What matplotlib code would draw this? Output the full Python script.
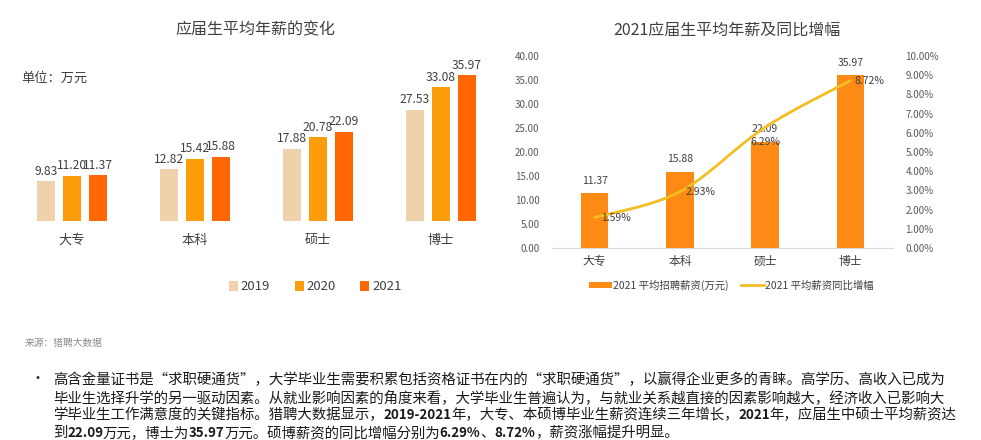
import matplotlib
matplotlib.use("Agg")
import matplotlib.pyplot as plt
from matplotlib.path import Path
from matplotlib.patches import PathPatch
import numpy as np

plt.rcParams['font.family'] = ['Noto Sans CJK SC', 'DejaVu Sans']

# ---------------- data ----------------
categories = ['大专', '本科', '硕士', '博士']
years = ['2019', '2020', '2021']
salary_2019 = [9.83, 12.82, 17.88, 27.53]
salary_2020 = [11.20, 15.42, 20.78, 33.08]
salary_2021 = [11.37, 15.88, 22.09, 35.97]
growth_2021 = [1.59, 2.93, 6.29, 8.72]  # percent

left_title = '应届生平均年薪的变化'
right_title = '2021应届生平均年薪及同比增幅'
bar_legend = '2021 平均招聘薪资(万元)'
line_legend = '2021 平均薪资同比增幅'
unit_text = '单位：万元'
source_text = '来源：猎聘大数据'
# (text, bold) segments per line
body_lines = [
    [('高含金量证书是“求职硬通货”，大学毕业生需要积累包括资格证书在内的“求职硬通货”，以赢得企业更多的青睐。高学历、高收入已成为', False)],
    [('毕业生选择升学的另一驱动因素。从就业影响因素的角度来看，大学毕业生普遍认为，与就业关系越直接的因素影响越大，经济收入已影响大', False)],
    [('学毕业生工作满意度的关键指标。猎聘大数据显示，', False), ('2019-2021', True),
     ('年，大专、本硕博毕业生薪资连续三年增长，', False), ('2021', True),
     ('年，应届生中硕士平均薪资达', False)],
    [('到', False), ('22.09', True), ('万元，博士为', False), ('35.97', True),
     ('万元。硕博薪资的同比增幅分别为', False), ('6.29%', True), ('、', False),
     ('8.72%', True), ('，薪资涨幅提升明显。', False)],
]

c2019 = '#EFD2AB'
c2020 = '#FD9C0B'
c2021 = '#FE6703'
c_bar = '#FD8A14'
c_line = '#F3BE22'
txt = '#404040'

W, H = 981, 440
fig = plt.figure(figsize=(W / 100, H / 100), dpi=100)

def fx(px):
    return px / W

def fy(py):
    return 1 - py / H

# ---------------- left chart ----------------
axL = fig.add_axes([fx(10.5), fy(221), fx(492), (221 - 59) / H])
x = np.arange(len(categories))
bw = 0.142
off = 0.212
series = [salary_2019, salary_2020, salary_2021]
cols = [c2019, c2020, c2021]
for i, (vals, col, yr) in enumerate(zip(series, cols, years)):
    xs = x + (i - 1) * off
    axL.bar(xs, vals, width=bw, color=col, label=yr)
    for xi, v in zip(xs, vals):
        axL.text(xi, v + 0.8, f'{v:.2f}', ha='center', va='bottom',
                 fontsize=8.7, color=txt)
axL.set_xlim(-0.5, 3.5)
axL.set_ylim(0, 40)
axL.set_yticks([])
axL.set_xticks(x)
axL.set_xticklabels(categories, fontsize=9.5, color=txt)
axL.tick_params(axis='x', length=0, pad=9)
for s in axL.spines.values():
    s.set_visible(False)
axL.patch.set_alpha(0)
fig.legend(*axL.get_legend_handles_labels(), loc='center left',
           bbox_to_anchor=(fx(229), fy(287)),
           ncol=3, frameon=False, fontsize=9.5, handlelength=0.7,
           handleheight=0.7, handletextpad=0.2, columnspacing=1.85,
           labelcolor=txt, borderaxespad=0, borderpad=0)

fig.text(fx(255), fy(30), left_title, ha='center', va='center', fontsize=11.5, color=txt)
fig.text(fx(21), fy(78), unit_text, ha='left', va='center', fontsize=9.5, color=txt)

# ---------------- right chart ----------------
axR = fig.add_axes([fx(552), fy(248), fx(341), (248 - 56) / H])
axR.bar(x, salary_2021, width=0.32, color=c_bar, label=bar_legend, zorder=2)
for xi, v in zip(x, salary_2021):
    axR.text(xi, v + 1.6, f'{v:.2f}', ha='center', va='bottom', fontsize=7.5, color=txt)
axR.set_xlim(-0.5, 3.5)
axR.set_ylim(0, 40)
axR.set_yticks(np.arange(0, 41, 5))
axR.set_yticklabels([f'{v:.2f}' for v in np.arange(0, 41, 5)], fontsize=7, color='#595959')
axR.set_xticks(x)
axR.set_xticklabels(categories, fontsize=8.5, color=txt)
axR.tick_params(axis='x', length=0, pad=5)
axR.tick_params(axis='y', length=0, pad=9)
for k in ['top', 'right', 'left']:
    axR.spines[k].set_visible(False)
axR.spines['bottom'].set_color('#D9D9D9')
axR.patch.set_alpha(0)

ax2 = axR.twinx()
ax2.set_ylim(0, 10)
ax2.set_yticks(np.arange(0, 11, 1))
ax2.set_yticklabels([f'{v:.2f}%' for v in np.arange(0, 11, 1)], fontsize=7, color='#595959')
ax2.tick_params(axis='y', length=0, pad=9)
for s in ax2.spines.values():
    s.set_visible(False)

# smooth line (Catmull-Rom -> cubic Bezier) through the data points
gx = np.array(x, dtype=float)
gy = np.array(growth_2021, dtype=float)
verts = [(gx[0], gy[0])]
codes = [Path.MOVETO]
n = len(gx)
t = 1 / 6
for i in range(n - 1):
    p0 = (gx[max(i - 1, 0)], gy[max(i - 1, 0)])
    p1 = (gx[i], gy[i])
    p2 = (gx[i + 1], gy[i + 1])
    p3 = (gx[min(i + 2, n - 1)], gy[min(i + 2, n - 1)])
    c1 = (p1[0] + (p2[0] - p0[0]) * t, p1[1] + (p2[1] - p0[1]) * t)
    c2 = (p2[0] - (p3[0] - p1[0]) * t, p2[1] - (p3[1] - p1[1]) * t)
    verts += [c1, c2, p2]
    codes += [Path.CURVE4] * 3
ax2.add_patch(PathPatch(Path(verts, codes), facecolor='none', edgecolor=c_line,
                        lw=2.0, capstyle='round', zorder=3))
ax2.plot([], [], color=c_line, lw=2.0, label=line_legend)

lbl_pos = [('left', 'center', 0.07, -0.03),
           ('left', 'center', 0.07, -0.03),
           ('center', 'center', 0.0, -0.78),
           ('left', 'center', 0.05, -0.03)]
for xi, v, (ha, va, dx, dy) in zip(gx, gy, lbl_pos):
    ax2.text(xi + dx, v + dy, f'{v:.2f}%', ha=ha, va=va, fontsize=7.5, color=txt, zorder=4)

h1, l1 = axR.get_legend_handles_labels()
h2, l2 = ax2.get_legend_handles_labels()
fig.legend(h1 + h2, l1 + l2, loc='center left', bbox_to_anchor=(fx(589), fy(285)),
           ncol=2, frameon=False, fontsize=7.5, handlelength=2.2, handleheight=0.6,
           handletextpad=0.1, columnspacing=1.2, labelcolor=txt,
           borderaxespad=0, borderpad=0)

fig.text(fx(727), fy(30), right_title, ha='center', va='center', fontsize=11.5, color=txt)

# ---------------- footer text ----------------
fig.text(fx(25), fy(343), source_text, ha='left', va='center', fontsize=7, color='#8C8C8C')
fig.text(fx(30), fy(379), '•', ha='left', va='center', fontsize=10, color='#222222')

renderer = fig.canvas.get_renderer()
for i, segs in enumerate(body_lines):
    xpos = 53.0
    ypos = fy(380 + i * 17.7)
    for s, bold in segs:
        tx = fig.text(fx(xpos), ypos, s, ha='left', va='center',
                      fontsize=9.6 if bold else 10.4, color='#1A1A1A',
                      fontweight='bold' if bold else 'normal')
        bb = tx.get_window_extent(renderer=renderer)
        xpos += bb.width - (0.5 if bold else 0.0)

fig.savefig('out.png', dpi=100)
